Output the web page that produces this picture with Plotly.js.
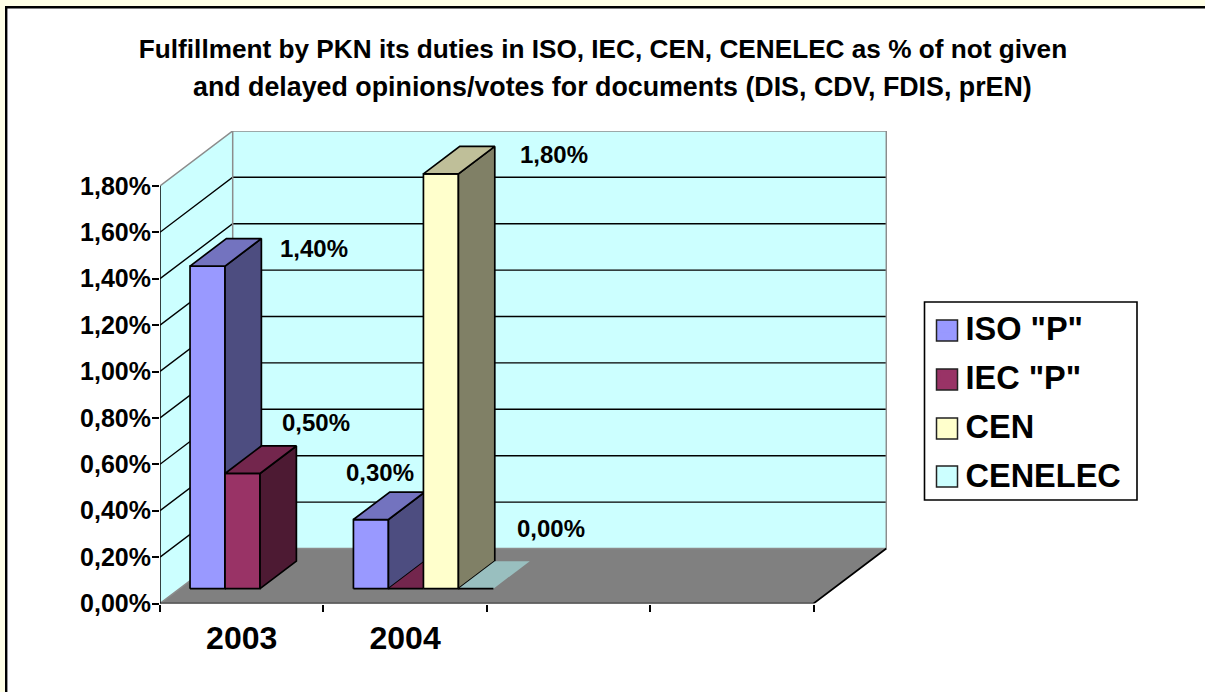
<!DOCTYPE html>
<html><head><meta charset="utf-8">
<script src="https://cdn.plot.ly/plotly-3.0.1.min.js"></script>
<style>html,body{margin:0;padding:0;background:#fff}</style></head>
<body><div id="chart" style="width:1205px;height:692px"></div>
<script>
// ---- data ----
const categories = ['2003', '2004'];
const seriesNames = ['ISO "P"', 'IEC "P"', 'CEN', 'CENELEC'];
const isoValues = [1.4, 0.3];
const iecValues = [0.5, 0.0];
const cenValues = [null, 1.8];
const cenelecValues = [null, 0.0];
const yTickValues = [0, 0.2, 0.4, 0.6, 0.8, 1.0, 1.2, 1.4, 1.6, 1.8];
const yTickLabels = ['0,00%','0,20%','0,40%','0,60%','0,80%','1,00%','1,20%','1,40%','1,60%','1,80%'];
const titleLine1 = 'Fulfillment by PKN its duties in ISO, IEC, CEN, CENELEC as % of not given';
const titleLine2 = 'and delayed opinions/votes for documents (DIS, CDV, FDIS, prEN)';

// ---- styles ----
const faceColors = ['#9999FF', '#993366', '#FFFFCC', '#CCFFFF'];
const sideColors = ['#4D4D80', '#4D1A33', '#808066', '#668080'];
const topColors  = ['#7373BF', '#73264D', '#BFBF99', '#99BFBF'];
const seriesValues = [isoValues, iecValues, cenValues, cenelecValues];

// ---- geometry of the oblique projection ----
const W = 1205, H = 692;
const plotL = 160, plotB = 603.5, plotR = 887, plotT = 131;
const pxCat = 163.4, pxVal = 232;        // pixels per category, per 100 % unit
const depthX = 72.7 / pxCat, depthY = 55 / pxVal;  // full floor depth in axis units
const barW = 35 / pxCat, barGap = 10.4 / pxCat;
const barScale = 230.4 / pxVal;          // bars sit slightly forward of the wall plane
const z0 = 0.27, z1 = 0.77;              // bar depth span on the floor
const nSlots = 4;
const P = (c, v, z) => [c + z * depthX, v + z * depthY];
const poly = (pts, fill, line, lw) => ({
  type: 'scatter', mode: lw ? 'lines' : 'none', fill: 'toself', fillcolor: fill,
  x: pts.map(p => p[0]), y: pts.map(p => p[1]),
  line: {color: line || fill, width: lw || 0},
  showlegend: false, hoverinfo: 'skip', cliponaxis: false
});
const path = (pts, color, width) => ({
  type: 'scatter', mode: 'lines',
  x: pts.map(p => p ? p[0] : null), y: pts.map(p => p ? p[1] : null),
  line: {color, width}, showlegend: false, hoverinfo: 'skip', cliponaxis: false, connectgaps: false
});

const traces = [];
const vMax = yTickValues[yTickValues.length - 1];
// walls and floor
traces.push(poly([P(0,0,0),P(0,vMax,0),P(0,vMax,1),P(0,0,1)], '#CCFFFF'));
traces.push(poly([P(0,0,1),P(0,vMax,1),P(nSlots,vMax,1),P(nSlots,0,1)], '#CCFFFF'));
traces.push(poly([P(0,0,0),P(nSlots,0,0),P(nSlots,0,1),P(0,0,1)], '#808080'));
// gridlines
const grid = [];
yTickValues.slice(1, -1).forEach(v => { grid.push(P(0,v,0), P(0,v,1), P(nSlots,v,1), null); });
traces.push(path(grid, '#000000', 1.4));
// grey wall edges
traces.push(path([P(0,0,0),P(0,0,1),P(nSlots,0,1),null,P(0,vMax,0),P(0,vMax,1),P(nSlots,vMax,1),P(nSlots,0,1),null,P(0,0,1),P(0,vMax,1)], '#8C8C8C', 1.5));
// axes lines
traces.push(path([P(0,0,0),P(0,vMax,0)], '#000000', 1.5));
traces.push(path([P(0,0,0),P(nSlots,0,0),P(nSlots,0,1)], '#000000', 1.7));

// bars, series by series within each category
categories.forEach((cat, ci) => {
  seriesValues.forEach((vals, si) => {
    const raw = vals[ci];
    if (raw === null) return;
    const v = raw * barScale;
    const c0 = ci + barGap + si * barW, c1 = c0 + barW;
    const flat = raw === 0;
    if (!flat) {
      traces.push(poly([P(c0,0,z0),P(c1,0,z0),P(c1,v,z0),P(c0,v,z0),P(c0,0,z0)], faceColors[si], '#000000', 1.7));
      traces.push(poly([P(c1,0,z0),P(c1,0,z1),P(c1,v,z1),P(c1,v,z0),P(c1,0,z0)], sideColors[si], '#000000', 1.7));
    }
    traces.push(poly([P(c0,v,z0),P(c1,v,z0),P(c1,v,z1),P(c0,v,z1),P(c0,v,z0)], topColors[si], flat ? null : '#000000', flat ? 0 : 1.7));
    if (flat) traces.push(path([P(c0,v,z0),P(c1,v,z0)], '#000000', 1.7));
  });
});

// data labels: pixel offset from each bar's back-right top corner, keyed series-category
const labelOffsets = {
  '0-0': [52.6, 12.4], '1-0': [19.6, -21], '0-1': [-44.8, -17], '2-1': [59.2, 10.6], '3-1': [21.2, -30], '1-1': null
};
const lx = [], ly = [], lt = [];
categories.forEach((cat, ci) => {
  seriesValues.forEach((vals, si) => {
    const raw = vals[ci], off = labelOffsets[si + '-' + ci];
    if (raw === null || !off) return;
    const c1 = ci + barGap + (si + 1) * barW;
    const p = P(c1, raw * barScale, z1);
    lx.push(p[0] + off[0] / pxCat); ly.push(p[1] - off[1] / pxVal);
    lt.push(raw.toFixed(2).replace('.', ',') + '%');
  });
});
traces.push({type:'scatter', mode:'text', x:lx, y:ly, text:lt, textposition:'middle center',
  textfont:{family:'Liberation Sans, Arial, sans-serif', size:24, weight:'bold', color:'#000'},
  showlegend:false, hoverinfo:'skip', cliponaxis:false});

// legend entries
seriesNames.forEach((name, i) => traces.push({
  type:'scatter', mode:'markers', x:[null], y:[null], name, legendgroup:'g'+i,
  marker:{symbol:'square', size:10, color:faceColors[i]}
}));

const px = (x) => x / W, py = (y) => 1 - y / H;
const rect = (x0,y0,x1,y1,fill,lc,lw,layer) => ({type:'rect', xref:'paper', yref:'paper',
  x0:px(x0), x1:px(x1), y0:py(y0), y1:py(y1), fillcolor:fill, line:{color:lc, width:lw}, layer:layer||'below'});
const swatchY = [320, 369, 418, 466];
const shapes = [rect(6.2, 7.3, 1215, 702, '#FFFFFF', '#000000', 2.4)];
shapes.push(rect(924.5, 302, 1137, 500, '#FFFFFF', '#000000', 1.6));
swatchY.forEach((y,i) => shapes.push(rect(936.5, y, 957.5, y+21, faceColors[i], '#222222', 1.5, 'above')));

const font = {family:'Liberation Sans, Arial, sans-serif', color:'#000'};
const layout = {
  width: W, height: H, autosize:false,
  margin:{l:0,r:0,t:0,b:0,pad:0},
  paper_bgcolor:'#FFFFE6', plot_bgcolor:'rgba(0,0,0,0)',
  font,
  title:{text:titleLine1, x:603/W, xanchor:'center', y:py(49), yanchor:'middle', yref:'paper',
    font:{...font, size:26.2, weight:'bold'}},
  annotations:[{text:titleLine2, xref:'paper', yref:'paper', x:px(612), y:py(87), xanchor:'center', yanchor:'middle',
    showarrow:false, font:{...font, size:26.8, weight:'bold'}}],
  xaxis:{domain:[px(plotL), px(plotR)], range:[0,(plotR-plotL)/pxCat], showgrid:false, zeroline:false, showline:false,
    tickmode:'array', tickvals:categories.map((c,i)=>i+0.5), ticktext:categories, ticks:'', 
    ticklabelstandoff:12, tickfont:{...font,size:32,weight:'bold'},
    minor:{tickmode:'array', tickvals:[0,1,2,3,4], ticks:'outside', ticklen:7, tickwidth:1.7, tickcolor:'#000', showgrid:false}},
  yaxis:{domain:[py(plotB), py(plotT)], range:[0,(plotB-plotT)/pxVal], showgrid:false, zeroline:false, showline:false,
    tickmode:'array', tickvals:yTickValues, ticktext:yTickLabels, ticks:'outside', ticklen:7, tickwidth:1.5, tickcolor:'#000',
    ticklabelstandoff:-4, tickfont:{...font,size:25,weight:'bold'}},
  showlegend:true,
  legend:{x:px(925.5), y:py(300), xanchor:'left', yanchor:'top', bgcolor:'rgba(0,0,0,0)', borderwidth:0,
    font:{...font,size:32.5,weight:'bold'}, itemwidth:30, tracegroupgap:3.6, traceorder:'grouped', itemclick:false, itemdoubleclick:false},
  shapes
};
Plotly.newPlot('chart', traces, layout, {displayModeBar:false, responsive:false});
</script></body></html>
